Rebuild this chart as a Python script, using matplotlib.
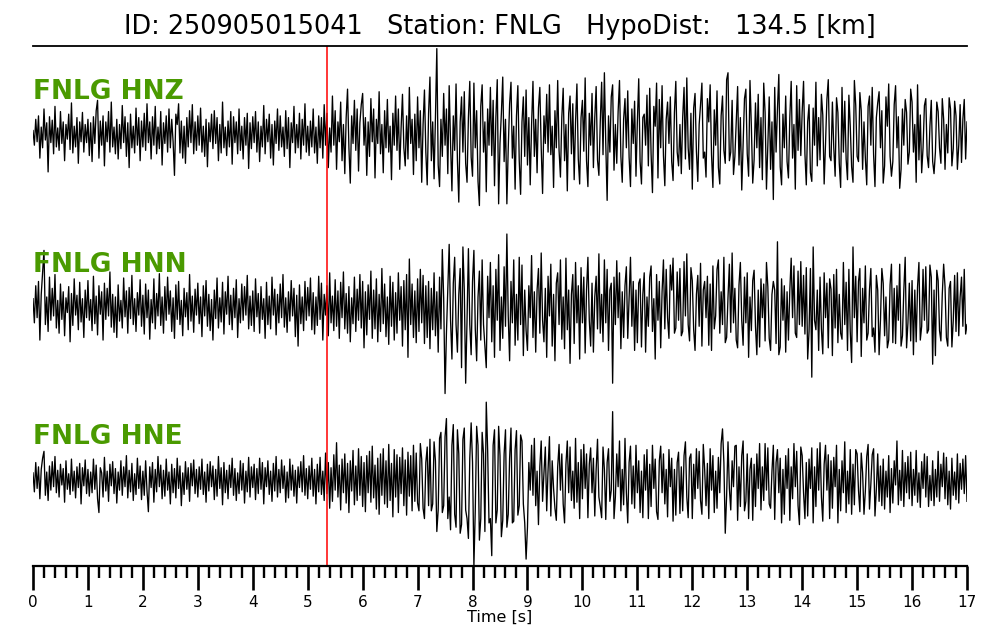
import numpy as np
import matplotlib
matplotlib.use("Agg")
import matplotlib.pyplot as plt
from matplotlib.ticker import MultipleLocator

# ---- metadata ----
event_id = "250905015041"
station = "FNLG"
hypo_dist = 134.5
p_pick = 5.35
channels = ["HNZ", "HNN", "HNE"]
t_start, t_end = 0.0, 17.0

hnz = [
    5,-12,18,-8,22,-27,9,-15,30,-6,14,-43,21,-9,17,-22,33,-14,8,-18,27,-10,15,-30,12,-5,24,-17,37,-21,10,-14,20,-33,15,-8,26,-20,12,-9,
    18,-24,14,-31,21,-10,28,40,-27,16,-12,22,-36,15,-8,27,-20,38,-14,9,-22,18,-28,12,-16,34,-9,21,-25,14,-38,24,-15,10,-21,31,-12,20,-30,16,
    -14,25,-18,36,-9,15,-28,21,-12,33,-22,9,-16,27,-35,14,-10,22,-20,30,-15,18,-8,-47,24,12,36,-21,16,-27,10,-33,20,-14,28,-9,35,-22,15,-18,
    22,-12,31,-20,10,-25,18,-37,14,-8,24,-16,28,-10,20,-30,12,-21,38,-15,9,-24,16,-14,27,-34,21,-9,15,-22,30,-18,10,-28,20,-12,25,-39,14,-16,
    21,-9,27,-20,15,-31,10,-14,34,-22,18,-8,24,-27,12,-35,16,-10,30,-18,22,-14,9,-25,28,-16,20,-38,14,-9,33,-21,12,-15,25,-28,18,-12,36,-20,
    10,-24,16,-14,30,-21,9,-33,22,-15,20,-27,35,-12,25,-38,8,-20,45,-12,28,-40,15,-8,38,-30,12,-45,20,53,-15,-56,22,-10,40,-18,30,-42,14,35,
    48,-12,20,-47,15,-25,42,-8,30,-50,18,-10,50,-22,12,-44,28,-15,41,-20,10,-52,25,-12,45,-18,30,-40,8,47,-15,-36,22,-28,55,-10,18,-46,24,-30,
    44,-15,28,-55,12,52,-20,-58,25,67,-30,15,-51,20,100,-35,-60,18,-25,48,-12,30,-45,57,-10,-65,22,-18,59,-30,-78,15,44,-20,50,-33,-55,20,62,-26,
    -48,60,-15,28,-54,-82,33,58,-20,15,-66,30,-12,55,-24,40,-59,20,64,-80,-10,25,67,-31,18,-80,-15,36,61,-27,10,-63,22,57,-30,-69,15,44,-25,52,
    -35,20,-58,12,62,-25,18,-44,31,55,-15,-68,22,-10,47,-20,58,-23,10,-61,28,-15,63,-18,-49,20,54,-30,12,-65,25,45,-22,36,-52,15,59,-28,-57,20,
    40,-19,66,-30,-60,25,-12,48,-38,20,56,-29,-47,15,61,-23,72,-10,-76,22,-20,44,58,-41,12,-33,27,63,-25,-55,18,42,-15,51,-26,-60,30,-10,39,-48,
    15,65,-31,-57,20,24,-12,46,-36,54,-22,-67,33,10,60,-50,41,-15,57,-24,-59,18,38,-10,44,-31,-53,26,62,-20,-36,12,-45,20,55,-28,66,-15,-40,25,
    -63,31,48,-19,-54,12,35,60,-27,-20,-49,42,15,58,-23,-61,29,-12,51,-38,-57,22,45,-18,-33,64,72,-30,-20,40,-46,-25,15,56,-35,20,-64,-10,42,53,
    -22,-48,63,10,-56,-29,37,-15,47,-38,20,-52,60,26,-63,-12,44,-40,15,-75,55,-20,30,70,-37,-58,24,-15,45,-31,-50,20,62,-27,12,-63,57,-18,41,-24,
    27,62,-22,-58,15,35,-44,-54,31,-12,61,-36,20,-29,47,23,-57,-10,41,64,-25,-30,38,-15,-48,43,26,-33,-61,55,-20,39,-28,-52,46,10,-37,-55,63,34,
    -25,-31,49,28,-40,15,-27,-58,33,45,-12,55,-23,-60,20,37,50,-15,28,-56,-36,44,10,59,-25,-48,-31,35,57,-15,21,-62,-40,30,-12,41,26,-34,-20,53,
    38,-20,12,-55,58,-29,23,-44,-15,34,42,-24,-38,10,40,-31,-45,-20,38,27,-15,-33,42,18,-40,12,-21,43,30,-36,-16,39,22,-40,-12,35,-32,18,41,-28,
    15,
]
hnn = [
    10,-18,25,-12,30,-38,15,40,66,-20,12,-28,35,-15,22,-10,38,-24,8,-30,27,-14,18,-33,11,-6,24,-40,16,-21,33,-9,14,-26,29,-17,10,-35,20,-12,
    31,-15,9,-27,36,-19,13,-32,25,-8,18,-38,28,-14,22,-10,41,-23,15,-29,12,-35,26,-16,8,-24,34,-11,19,-30,23,-13,37,-20,10,-28,17,-9,32,-22,
    14,-31,27,-12,20,-37,9,-18,33,-25,16,-10,39,-21,12,-30,24,-15,35,-8,19,-28,11,-36,26,-14,30,-20,8,-33,22,-11,17,-26,38,-16,13,-29,21,-9,
    28,-19,12,-34,25,-10,31,-22,15,-27,9,-38,20,-13,34,-24,11,-17,29,-31,18,-8,36,-20,14,-26,22,-12,32,-35,10,-18,27,-15,24,-9,37,-25,13,-21,
    19,-28,33,-11,16,-30,24,-14,10,-36,29,-20,13,-25,35,-9,21,-32,15,-18,27,-12,38,-23,11,-29,18,-16,31,-10,22,-34,14,-45,26,-19,12,-27,30,-15,
    23,-10,34,-26,17,-31,12,-21,36,-14,28,-38,15,-9,25,-33,40,-18,13,-27,32,-22,19,-36,29,-12,41,-25,16,-30,24,-40,11,-19,35,-28,21,-15,38,-24,
    30,-47,18,-32,26,-14,42,-36,20,-25,33,-40,15,-28,45,-19,27,-34,12,-43,36,-22,29,-38,17,-30,40,-15,24,-45,31,-26,38,-58,56,-20,27,-35,19,-41,
    33,-28,44,-18,37,-42,25,-35,30,-48,22,-26,40,-33,18,-52,35,-25,67,10,-100,-30,20,73,-15,-60,28,58,-20,-52,15,45,-70,70,20,-88,-15,68,-20,-55,
    30,66,-25,-62,12,42,-38,55,-20,-45,-70,36,-12,52,-40,25,-58,44,-15,61,-50,12,-36,47,-22,85,-10,-62,30,-18,55,-44,15,-38,58,-20,49,-56,20,-27,
    -50,25,-12,60,-35,18,-52,20,45,-30,63,-15,-40,22,-58,36,-10,50,-45,15,-62,28,40,-20,55,-37,12,-48,57,-26,20,-65,15,38,-42,52,-18,25,-60,46,
    -18,35,-53,20,58,-15,-45,28,-52,12,36,-25,62,-30,15,-40,55,-18,44,-50,20,28,-88,35,-20,54,-12,40,-48,18,-35,25,47,-36,10,58,-22,30,-50,20,
    -41,28,33,-46,15,40,-52,12,-22,35,48,-28,10,-60,38,-15,30,-47,18,55,-25,44,-12,-36,49,20,57,-30,-24,41,-15,45,-33,-28,53,-10,62,-20,-39,46,
    31,-26,-50,15,37,-22,51,-45,20,30,-12,36,-44,27,-50,48,-25,-10,44,55,-30,18,-20,58,-41,-35,12,50,-29,63,-18,22,-38,-47,26,52,-15,-44,35,-18,
    40,-58,12,-27,31,43,-22,-55,20,-46,33,-12,27,-39,52,24,-36,-50,15,30,20,-42,76,-55,-46,33,-15,25,-52,18,-38,20,57,-12,48,-30,-35,42,-20,53,
    -22,37,-31,46,-60,-28,45,-81,70,-15,-26,20,-50,35,-25,-54,40,-12,28,-47,33,21,-56,38,-24,44,-41,15,-30,-37,52,-20,29,-50,44,-28,-64,70,-12,36,
    -40,30,45,-57,22,-18,48,-38,-30,20,45,-34,-24,-52,37,20,-55,-15,45,28,-33,12,-47,-38,26,50,-41,22,-42,25,-15,50,-45,-33,20,58,-47,-18,28,-39,
    31,-55,20,-40,24,52,-38,-22,44,-15,47,-30,-26,49,35,-66,20,-56,43,31,-27,-39,15,50,24,-35,-45,22,30,-46,-15,37,-28,40,-33,12,35,-22,44,-31,
    -20,
]
hne = [
    8,-14,20,-10,15,-22,12,25,33,-18,9,-24,16,-12,21,-8,27,-15,11,-20,18,-6,13,-26,22,-11,7,-17,24,-13,10,-21,15,-9,19,-28,14,-7,23,-16,
    12,-19,9,-15,24,-11,17,-22,-38,14,8,-20,26,-13,10,-25,18,-7,21,-16,13,-27,9,-12,22,-18,15,-8,28,-21,11,-14,19,-24,7,-17,25,-10,16,-23,
    10,-18,22,-13,-37,15,-9,20,-26,12,-14,27,-8,17,-22,11,-19,24,-12,9,-28,18,-15,13,-21,25,-10,16,-30,8,-17,21,-11,14,-25,19,-7,23,-16,12,
    -20,15,-11,24,-17,9,-26,18,-13,21,-8,16,-23,12,-19,27,-10,14,-29,20,-15,11,-22,17,-9,25,-18,13,-24,8,-16,22,-12,19,-27,10,-14,26,-20,15,
    -9,18,-23,13,-16,25,-11,20,-28,14,-8,22,-17,10,-25,19,-13,27,-20,12,-15,23,-10,16,-26,9,-21,24,-12,17,-19,11,-27,15,-9,21,-14,28,-18,13,
    -22,16,-11,25,-19,12,-28,18,-14,26,-17,10,-24,31,-16,20,-33,14,-25,29,-12,43,-20,17,-35,24,-15,30,-27,19,-38,22,-13,34,-29,16,-24,36,-18,27,
    -31,20,-37,28,-15,33,-26,39,-21,17,-34,25,-40,30,-18,36,-28,22,-32,41,-24,19,-43,35,-20,29,-38,26,-16,37,-30,23,-41,32,-19,28,-36,40,-25,31,
    -27,-36,42,24,-33,-45,20,38,-30,47,-36,-28,44,22,-60,-35,48,55,-38,-30,50,71,-45,-20,-58,40,64,-40,-55,58,30,-62,-52,47,60,-35,-45,-68,25,66,
    20,-100,-35,62,40,-70,-45,55,30,-60,90,35,-50,-45,-88,40,58,-50,-35,62,28,-66,-47,30,58,-55,-40,25,60,-50,-48,35,57,-41,-30,52,45,-28,-50,-92,
    -55,20,-12,40,-18,48,-30,10,-52,15,45,-25,8,38,-36,12,50,-42,22,-10,-33,-47,15,41,-12,30,-28,-50,18,45,-15,38,-24,10,-33,48,-26,20,-45,35,
    -22,41,-10,30,-44,18,37,-15,25,-42,12,47,-20,-31,-44,38,12,-46,20,36,-25,-12,79,-45,-20,30,-8,45,-36,12,-29,48,-15,-50,20,39,-28,16,-33,40,
    -15,22,-38,10,-44,29,-12,35,-45,18,-31,40,-10,24,-37,-46,22,39,-15,30,-28,12,-43,35,-8,25,-48,12,-41,20,32,-39,15,-36,28,44,-20,-44,25,30,
    -45,18,-22,36,-10,33,-24,-40,41,12,-30,19,-45,36,-12,28,-38,10,-33,26,-15,42,59,20,-62,-18,44,-10,-35,22,-8,39,40,-47,15,-31,28,45,-36,-25,
    30,-45,12,25,-47,18,-31,30,-10,42,-35,15,-24,42,-12,37,-28,-33,10,40,-46,20,35,-15,25,-50,12,-40,28,-10,36,-47,15,-22,42,-8,33,-30,-52,38,
    28,-15,-45,20,-42,24,-10,37,-50,15,-31,36,-12,43,-20,-48,18,40,-12,29,-45,22,-33,26,-8,40,-50,12,-36,22,-15,44,-38,10,-28,35,-40,18,-29,35,
    30,-12,-37,31,8,-40,-13,27,41,-34,-5,29,36,-42,-11,30,-25,16,-30,24,-34,10,-20,28,-38,13,-27,22,-6,45,-29,11,-24,34,-31,20,-15,27,-22,32,
    -30,12,-18,34,-26,8,-32,21,-10,30,-20,27,-31,5,-24,22,-30,12,-20,33,-25,18,-8,31,-22,26,-29,10,-34,25,-18,9,-23,30,-27,19,-11,24,-16,28,
    -25,
]
traces = [hnz, hnn, hne]

# ---- figure ----
fig = plt.figure(figsize=(10, 6.4), dpi=100)
ax = fig.add_axes([0.033, 0.1156, 0.934, 0.8125])

label_color = "#4a9a00"
for k, (ch, tr) in enumerate(zip(channels, traces)):
    y = np.asarray(tr, dtype=float)
    y = y / np.max(np.abs(y)) * 0.5
    t = np.linspace(t_start, t_end, len(y))
    ax.plot(t, y - k, color="black", lw=0.95)
    ax.text(0.0, -k + 0.205, f"{station} {ch}", color=label_color,
            fontsize=19, fontweight="bold", ha="left", va="baseline")

ax.axvline(p_pick, color="red", lw=1.1)

ax.set_xlim(t_start, t_end)
ax.set_ylim(-2.5, 0.515)
ax.spines["left"].set_visible(False)
ax.spines["right"].set_visible(False)
ax.spines["top"].set_linewidth(1.3)
ax.spines["bottom"].set_linewidth(1.6)
ax.set_yticks([])
ax.xaxis.set_major_locator(MultipleLocator(1))
ax.xaxis.set_minor_locator(MultipleLocator(0.2))
ax.tick_params(axis="x", which="major", direction="out", length=17, width=1.9,
               labelsize=11, pad=4)
ax.tick_params(axis="x", which="minor", direction="out", length=8.5, width=1.7)
ax.set_xlabel("Time [s]", fontsize=11.5, labelpad=0)

fig.suptitle(f"ID: {event_id}   Station: {station}   HypoDist:   {hypo_dist} [km]",
             fontsize=18.4, y=0.958, va="center")

fig.savefig("out.png", dpi=100)
